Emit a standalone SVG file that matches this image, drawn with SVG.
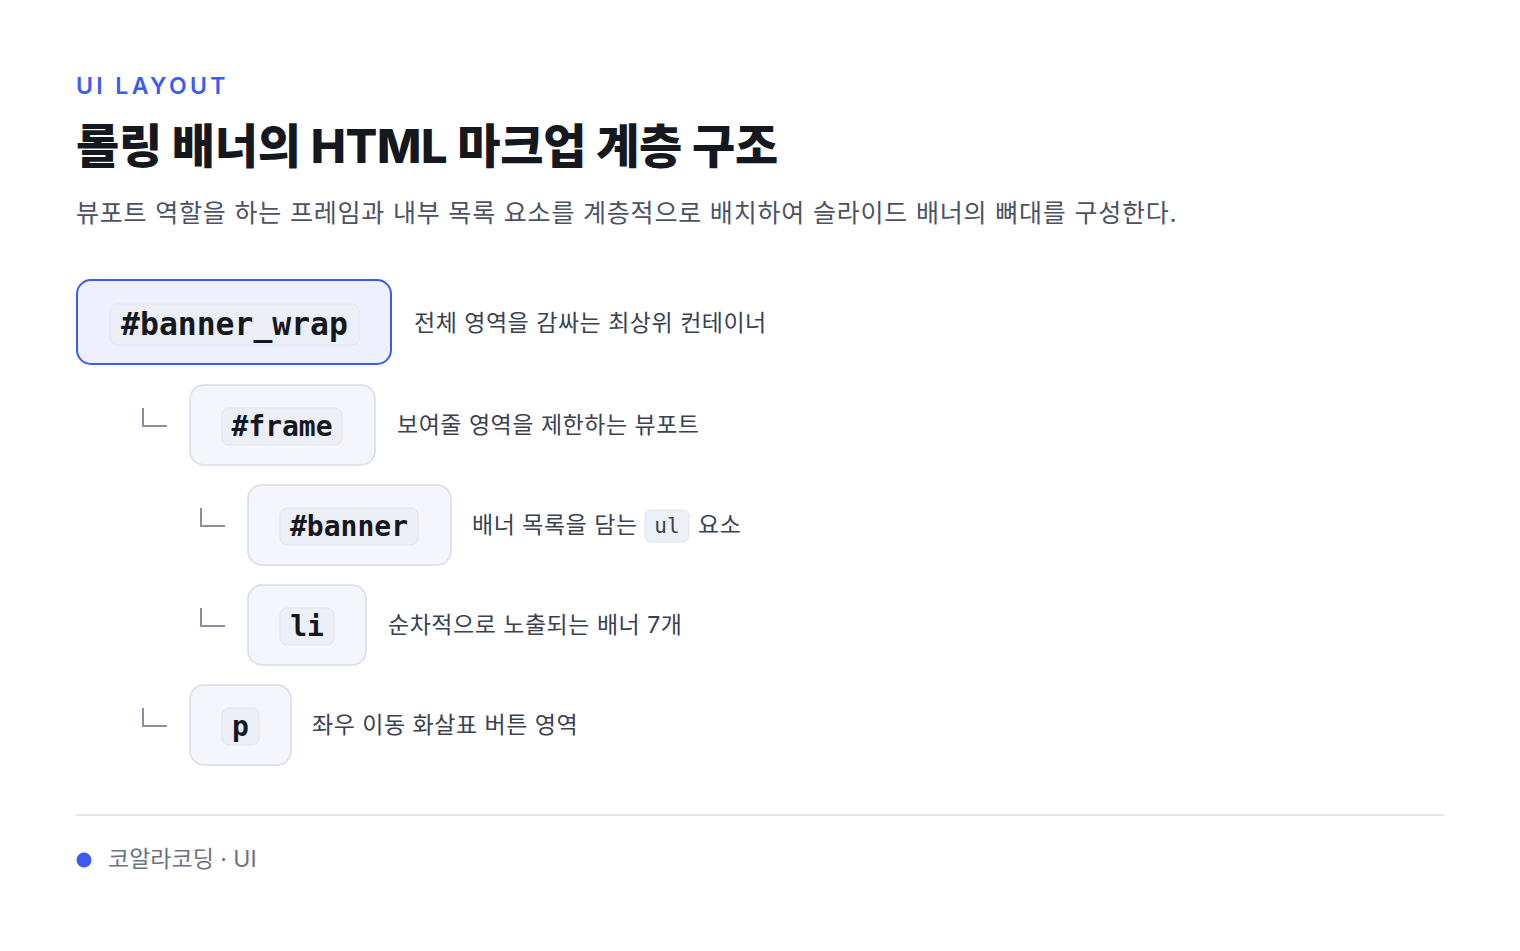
<svg xmlns="http://www.w3.org/2000/svg" width="1520" height="951" viewBox="0 0 1520 951">
<style>
.sans{font-family:Inter,"Noto Sans CJK KR",sans-serif}
.eyebrow{font-size:23px;font-weight:600;fill:#3b5cf0;letter-spacing:3.4px}
.title{font-size:47px;font-weight:800;fill:#15181f;letter-spacing:-0.3px}
.sub{font-size:25px;fill:#4b5262;letter-spacing:0.8px}
.desc{font-size:23px;fill:#3a4150;letter-spacing:0.5px}
.code{font-family:"DejaVu Sans Mono","Liberation Mono",monospace;font-weight:700;fill:#15181f;text-anchor:middle}
.root{fill:#eef1fd;stroke:#3b5cf0;stroke-width:2}
.node{fill:#f5f6fb;stroke:#dfe3ee;stroke-width:2}
.chip{fill:#eceff6;stroke:#e1e5ee;stroke-width:1}
.conn{fill:none;stroke:#8a90a0;stroke-width:2}
.foot{font-size:23px;fill:#6b7280}
</style>
<rect width="1520" height="951" fill="#ffffff"/>
<text class="sans eyebrow" x="76" y="94">UI LAYOUT</text>
<text class="sans title" x="76" y="163">롤링 배너의 HTML 마크업 계층 구조</text>
<text class="sans sub" x="76" y="222">뷰포트 역할을 하는 프레임과 내부 목록 요소를 계층적으로 배치하여 슬라이드 배너의 뼈대를 구성한다.</text>

<g id="connectors">
<path class="conn" d="M143 408V426H167"/>
<path class="conn" d="M201 508V526H225"/>
<path class="conn" d="M201 608V626H225"/>
<path class="conn" d="M143 708V726H167"/>
</g>

<g id="banner_wrap">
<rect class="root" x="77" y="280" width="314" height="84" rx="14"/>
<rect class="chip" x="110" y="304" width="249" height="41" rx="7"/>
<text class="code" x="234.5" y="335" font-size="31.4">#banner_wrap</text>
<text class="sans desc" x="414" y="331">전체 영역을 감싸는 최상위 컨테이너</text>
</g>

<g id="frame">
<rect class="node" x="190" y="385" width="185" height="80" rx="14"/>
<rect class="chip" x="222" y="408" width="120" height="37" rx="7"/>
<text class="code" x="282" y="436" font-size="28">#frame</text>
<text class="sans desc" x="397" y="433">보여줄 영역을 제한하는 뷰포트</text>
</g>

<g id="banner">
<rect class="node" x="248" y="485" width="203" height="80" rx="14"/>
<rect class="chip" x="280" y="508" width="138" height="37" rx="7"/>
<text class="code" x="349" y="536" font-size="28">#banner</text>
<text class="sans desc" x="472" y="533">배너 목록을 담는</text>
<rect class="chip" x="645" y="510" width="44" height="32" rx="6" style="fill:#eef0f8;stroke:#dfe4f0"/>
<text x="667" y="533" font-size="21" text-anchor="middle" style="font-family:'DejaVu Sans Mono',monospace;fill:#3a4150">ul</text>
<text class="sans desc" x="698" y="533">요소</text>
</g>

<g id="li">
<rect class="node" x="248" y="585" width="118" height="80" rx="14"/>
<rect class="chip" x="280" y="608" width="54" height="37" rx="7"/>
<text class="code" x="307" y="636" font-size="28">li</text>
<text class="sans desc" x="388" y="633">순차적으로 노출되는 배너 7개</text>
</g>

<g id="p">
<rect class="node" x="190" y="685" width="101" height="80" rx="14"/>
<rect class="chip" x="222" y="708" width="37" height="37" rx="7"/>
<text class="code" x="240.5" y="736" font-size="28">p</text>
<text class="sans desc" x="312" y="733">좌우 이동 화살표 버튼 영역</text>
</g>

<line x1="76" y1="815" x2="1444" y2="815" stroke="#e3e6f0" stroke-width="2"/>
<circle cx="84" cy="860" r="7.5" fill="#3b5cf0"/>
<text class="sans foot" x="108" y="867">코알라코딩 · UI</text>
</svg>
